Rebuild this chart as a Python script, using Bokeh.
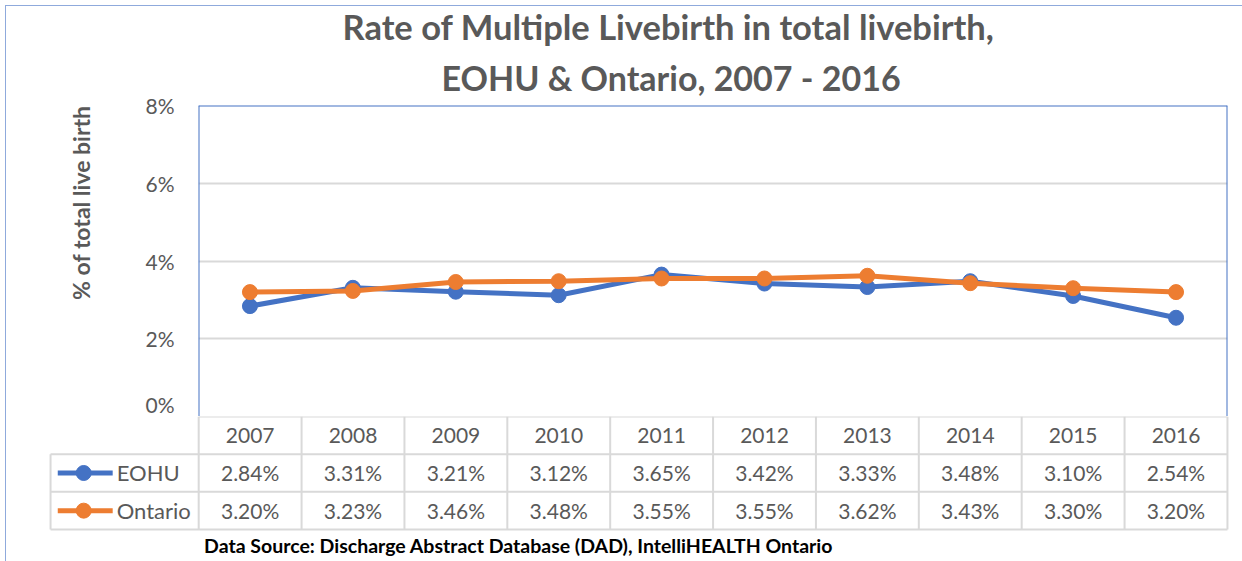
from bokeh.plotting import figure
from bokeh.models import Range1d, FixedTicker, CustomJSTickFormatter, Span, Title
from bokeh.layouts import column
from bokeh.embed import file_html
from bokeh.resources import INLINE
from bokeh.core.properties import value

# ---------------- data ----------------
years = ["2007", "2008", "2009", "2010", "2011", "2012", "2013", "2014", "2015", "2016"]
eohu = [2.84, 3.31, 3.21, 3.12, 3.65, 3.42, 3.33, 3.48, 3.10, 2.54]
ontario = [3.20, 3.23, 3.46, 3.48, 3.55, 3.55, 3.62, 3.43, 3.30, 3.20]
series_names = ["EOHU", "Ontario"]
y_ticks = [0, 2, 4, 6, 8]
title_lines = ["Rate of Multiple Livebirth in total livebirth,", "EOHU & Ontario, 2007 - 2016"]
y_title = "% of total live birth"
source_note = "Data Source: Discharge Abstract Database (DAD), IntelliHEALTH Ontario"

# ---------------- style ----------------
FONT = "Lato"
GREY = "#595959"
BLUE = "#4472C4"
ORANGE = "#ED7D31"
GRID = "#D9D9D9"
colors = [BLUE, ORANGE]
W = 1242
n = len(years)
xs = [i + 0.5 for i in range(n)]

# ---------------- chart ----------------
p = figure(width=W, height=416, x_range=Range1d(0, n), y_range=Range1d(0, 8),
           output_backend="svg", toolbar_location=None, x_axis_location=None,
           min_border_left=198, min_border_right=15, min_border_top=105, min_border_bottom=0,
           outline_line_color=None, border_fill_color=None)
p.background_fill_color = "white"
p.xgrid.visible = False
p.ygrid.grid_line_color = GRID
p.ygrid.grid_line_width = 2
yax = p.yaxis[0]
yax.ticker = FixedTicker(ticks=y_ticks)
yax.formatter = CustomJSTickFormatter(code="return tick + '%';")
yax.axis_line_color = None
yax.major_tick_line_color = None
yax.minor_tick_line_color = None
yax.major_tick_in = 0
yax.major_tick_out = 0
yax.major_label_standoff = 24
yax.major_label_text_font = FONT
yax.major_label_text_font_size = "21px"
yax.major_label_text_color = GREY

p.add_layout(Title(text=y_title, text_font=FONT, text_font_size="23px", text_font_style="bold",
                   text_color=GREY, align="right", standoff=95), "left")

for loc, dim in ((0, "height"), (n, "height"), (8, "width")):
    p.add_layout(Span(location=loc, dimension=dim, line_color=BLUE, line_width=2))

for vals, col in zip([eohu, ontario], colors):
    p.line(xs, vals, line_color=col, line_width=5)
    p.scatter(xs, vals, size=15, fill_color=col, line_color=col)

stand = [0, 16]
offs = [144, 243]
sizes = ["34.5px", "34px"]
for i in (1, 0):
    p.add_layout(Title(text=title_lines[i], text_font=FONT, text_font_size=sizes[i], text_font_style="bold",
                       text_color=GREY, align="left", offset=offs[i], standoff=stand[i]), "above")

# ---------------- data table ----------------
t = figure(width=W, height=145, x_range=Range1d(-1.46, n + 0.02), y_range=Range1d(3.85, 0),
           output_backend="svg", toolbar_location=None, x_axis_location=None, y_axis_location=None,
           min_border_left=48, min_border_right=13, min_border_top=0, min_border_bottom=0,
           outline_line_color=None, border_fill_color=None)
t.grid.visible = False
if "frame_align" in p.properties():
    p.frame_align = False
    t.frame_align = False
nrows = len(series_names) + 1
lead = -1.44
hx0 = [0] + [lead] * nrows
hx1 = [n] * (nrows + 1)
hy = list(range(nrows + 1))
t.segment(x0=hx0, y0=hy, x1=hx1, y1=hy, line_color=GRID, line_width=2)
vx = [lead] + list(range(n + 1))
vy0 = [1] + [0] * (n + 1)
vy1 = [nrows] * (n + 2)
t.segment(x0=vx, y0=vy0, x1=vx, y1=vy1, line_color=GRID, line_width=2)

cell_text = dict(text_align="center", text_baseline="middle", text_font=value(FONT),
                 text_font_size="21px", text_color=GREY)
t.text(x=xs, y=[0.5] * n, text=years, **cell_text)
for r, (name, vals, col) in enumerate(zip(series_names, [eohu, ontario], colors), start=1):
    yc = r + 0.5
    t.text(x=xs, y=[yc] * n, text=[f"{v:.2f}%" for v in vals], **cell_text)
    t.line([-1.37, -0.836], [yc, yc], line_color=col, line_width=5)
    t.scatter([-1.118], [yc], size=15, fill_color=col, line_color=col)
    t.text(x=[-0.797], y=[yc], text=[name], text_align="left", text_baseline="middle",
           text_font=value(FONT), text_font_size="22px", text_color=GREY)

t.text(x=[3.11], y=[3.42], text=[source_note], text_align="center", text_baseline="middle",
       text_font=value(FONT), text_font_size="19.5px", text_font_style="bold", text_color="black")

OUT = "#8FAADC"
layout = column(p, t, spacing=0, styles={
    "background-color": "white",
    "background-image": f"linear-gradient({OUT},{OUT}), linear-gradient({OUT},{OUT})",
    "background-size": "1237px 1px, 1px 556px",
    "background-position": "5px 5px, 5px 5px",
    "background-repeat": "no-repeat",
})
open("out.html", "w").write(file_html(layout, INLINE))
